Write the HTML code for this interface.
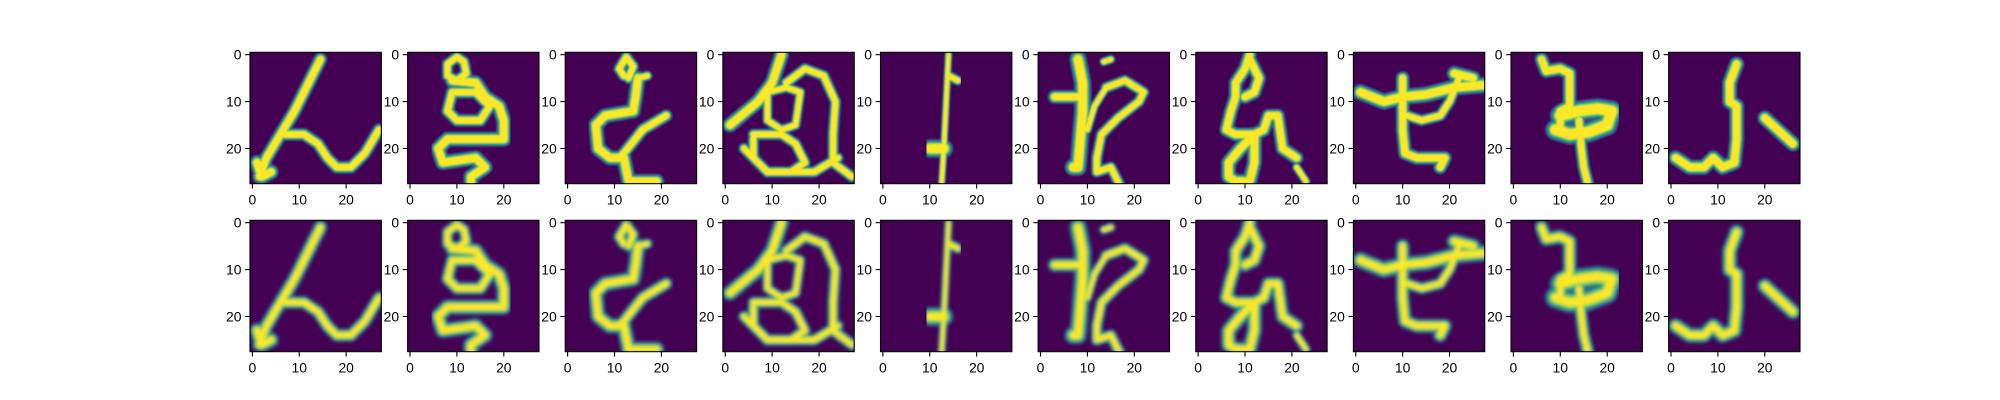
<!DOCTYPE html>
<html><head><meta charset="utf-8"><style>
html,body{margin:0;padding:0;background:#fff;}
svg{display:block;font-family:"Liberation Sans","DejaVu Sans",sans-serif;}
</style></head><body>
<svg id="fig" width="2000" height="400" viewBox="0 0 2000 400" xmlns="http://www.w3.org/2000/svg">
<defs>
<filter id="blur" x="-10%" y="-10%" width="120%" height="120%"><feGaussianBlur stdDeviation="0.35"/></filter>
<filter id="soft" x="-10%" y="-10%" width="120%" height="120%"><feGaussianBlur stdDeviation="0.15"/></filter>
</defs>
</svg>
<script>
// strokes per glyph: [widthMultiplier, [x,y, x,y, ...]] in 28x28 pixel units
const glyph0 = [[1.2,[14.5,1,12,6,9,12,6,17,3,22,1.5,26]],[1.1,[7,17,11,17,14,19,16,22,18,24,21,24,24,21,27,16]],[1.3,[1,23,2,26,4,25]]];
const glyph1 = [[1,[10,0.5,8,2,8,4.5,10,5.5,12,4,11.5,1.5,10,0.5]],[1.3,[9,5.5,14,6,16,9,19,11,20,14,20,18,14,18,8,18,6,20,7,23,14,22,16,24,13,26,13,28]],[1.1,[9,8,8,12,10,14,15,14,17,11,14,8,9,8]]];
const glyph2 = [[1,[12,4.5,11,3,12.5,0.5,14,2.5,13,5]],[1.3,[15,5,14.5,9,14,12,8,13,6,15,6.5,20,9,22,11,22]],[1.3,[12,22,13,27,19,27]],[1.1,[21,13,16,16,12,21,11,22]],[0.9,[15,5,17,4.5]]];
const glyph3 = [[1.3,[12,0,10,6,7,10,1,15]],[1,[13,6,17,3,21,4.5,23.5,10,23,17,23,23,27,26]],[1,[6,17,12,17,15,19,17,23,14,25,9,25,6,22,6,18]],[0.9,[9,8,9,14,12,16,15,15,16,8,13,7,9,8]],[1,[4,20,9,25,19,25,24,22]]];
const glyph4 = [[0.7,[14,0,13.5,10,13,20,12.5,28]],[1.6,[10,20,13,20]],[0.9,[14,4.5,16,5.5]]];
const glyph5 = [[1.5,[8,1,9,6,9,12,8.5,18,8,24,7,24]],[1.2,[3,9,9,9]],[0.8,[13.5,1.5,15,1]],[1,[14,7,18,5.5,22,8,21,10,16.5,13.5,13,17,12,22,12,25,15,24,17,28]],[0.8,[14,7,11.5,11,10,16]]];
const glyph6 = [[1.2,[11,0,10,3,8,6,8,9,7,12,6,16,8,17,12,17,14,16,15,13,17,13,18,20,21,22]],[1.2,[11,1,13,5,12,8,10,9]],[1.3,[12,17,9,20,6.5,23,6.5,26,8,27,11,27,12,23,12,17]],[0.8,[21,24,23,27]]];
const glyph7 = [[1.4,[1,8,6,10,10,9,15,8.5,21,7,27,6.5]],[1.2,[10,5,10,10,10,16,10.5,21,13,22,19,22,18,24]],[1,[22,5,20,10,18,13,14,14,11,13]],[1.3,[21,4,25,5]]];
const glyph8 = [[1.2,[6,1,7,3.5,10,3,12,4,12,8,12,11,10,12,10,15]],[1.8,[10,13,14,12,18,11.5,21,12,20,15,16,16.5,12,17,9,16]],[1.1,[14,14,14.5,20,15,24,16,28]]];
const glyph9 = [[1.3,[14,2,12.5,6,12.5,10,14,11,14,18,13.5,23,11,24,9,22,7,24,4,24,1,22]],[1.3,[20,13.5,26,19]]];
const glyphs = [glyph0,glyph1,glyph2,glyph3,glyph4,glyph5,glyph6,glyph7,glyph8,glyph9];
const xTickLabels = ["0","10","20"];
const yTickLabels = ["0","10","20"];
const tickValues = [0,10,20];

const svg = document.getElementById('fig');
const NS = 'http://www.w3.org/2000/svg';
const LEFT = 250, RIGHT = 1800, TOP = 48, BOTTOM = 356, NC = 10, NR = 2;
const cw = (RIGHT-LEFT)/(NC + (NC-1)*0.2);
const ch = (BOTTOM-TOP)/(NR + (NR-1)*0.2);
const size = Math.min(cw, ch);
function px(v){ return (v+0.5)*size/28; }

for (let r=0;r<NR;r++){
  for (let c=0;c<NC;c++){
    const cellX = LEFT + c*cw*1.2, cellY = TOP + r*ch*1.2;
    const x0 = cellX + (cw-size)/2, y0 = cellY + (ch-size)/2;
    const g = document.createElementNS(NS,'g');
    
    
    g.setAttribute('transform','translate('+x0.toFixed(2)+','+y0.toFixed(2)+')');
    const cid = 'clip'+r+'_'+c;
    const cp = document.createElementNS(NS,'clipPath'); cp.setAttribute('id',cid);
    const cr = document.createElementNS(NS,'rect'); cr.setAttribute('width',size); cr.setAttribute('height',size);
    cp.appendChild(cr); g.appendChild(cp);
    const bg = document.createElementNS(NS,'rect');
    
    
    bg.setAttribute('width',size); bg.setAttribute('height',size); bg.setAttribute('fill','#440154');
    g.appendChild(bg);
    const ig = document.createElementNS(NS,'g');
    ig.setAttribute('clip-path','url(#'+cid+')');
    const sg = document.createElementNS(NS,'g');
    sg.setAttribute('transform','scale('+(size/28)+')');
    sg.setAttribute('filter', r===1 ? 'url(#blur)' : 'url(#soft)');
    const layers = r===0 ? [['#3b528b',2.5],['#21918c',2.0],['#5ec962',1.6],['#fde725',1.2]] : [['#3b528b',2.6],['#21918c',2.1],['#5ec962',1.6],['#fde725',1.0]];
    for (const [col,w] of layers){
      for (const [mult,pts] of glyphs[c]){
        const pl = document.createElementNS(NS,'polyline');
        
        
        const p=[]; for(let i=0;i<pts.length;i+=2){ p.push((pts[i]+0.5)+','+(pts[i+1]+0.5)); }
        pl.setAttribute('points',p.join(' '));
        pl.setAttribute('fill','none'); pl.setAttribute('stroke',col);
        pl.setAttribute('stroke-width',(w*mult).toFixed(2));
        pl.setAttribute('stroke-linejoin','round'); pl.setAttribute('stroke-linecap','round');
        sg.appendChild(pl);
      }
    }
    ig.appendChild(sg); g.appendChild(ig);
    const border = document.createElementNS(NS,'rect');
    
    
    border.setAttribute('width',size); border.setAttribute('height',size);
    border.setAttribute('fill','none'); border.setAttribute('stroke','#000'); border.setAttribute('stroke-width','1.1');
    g.appendChild(border);
    tickValues.forEach((v,i)=>{
      const t = px(v);
      const xt = document.createElementNS(NS,'line');
      
      
      xt.setAttribute('x1',t); xt.setAttribute('x2',t); xt.setAttribute('y1',size); xt.setAttribute('y2',size+4.9);
      xt.setAttribute('stroke','#000'); xt.setAttribute('stroke-width','1.1'); g.appendChild(xt);
      const xl = document.createElementNS(NS,'text');
      
      
      xl.setAttribute('x',t); xl.setAttribute('y',size+21); xl.setAttribute('text-anchor','middle');
      xl.setAttribute('font-size','13.9'); xl.textContent = xTickLabels[i]; g.appendChild(xl);
      const yt = document.createElementNS(NS,'line');
      
      
      yt.setAttribute('x1',-4.9); yt.setAttribute('x2',0); yt.setAttribute('y1',t); yt.setAttribute('y2',t);
      yt.setAttribute('stroke','#000'); yt.setAttribute('stroke-width','1.1'); g.appendChild(yt);
      const yl = document.createElementNS(NS,'text');
      
      
      yl.setAttribute('x',-8.5); yl.setAttribute('y',t+5); yl.setAttribute('text-anchor','end');
      yl.setAttribute('font-size','13.9'); yl.textContent = yTickLabels[i]; g.appendChild(yl);
    });
    svg.appendChild(g);
  }
}
</script>
</body></html>
